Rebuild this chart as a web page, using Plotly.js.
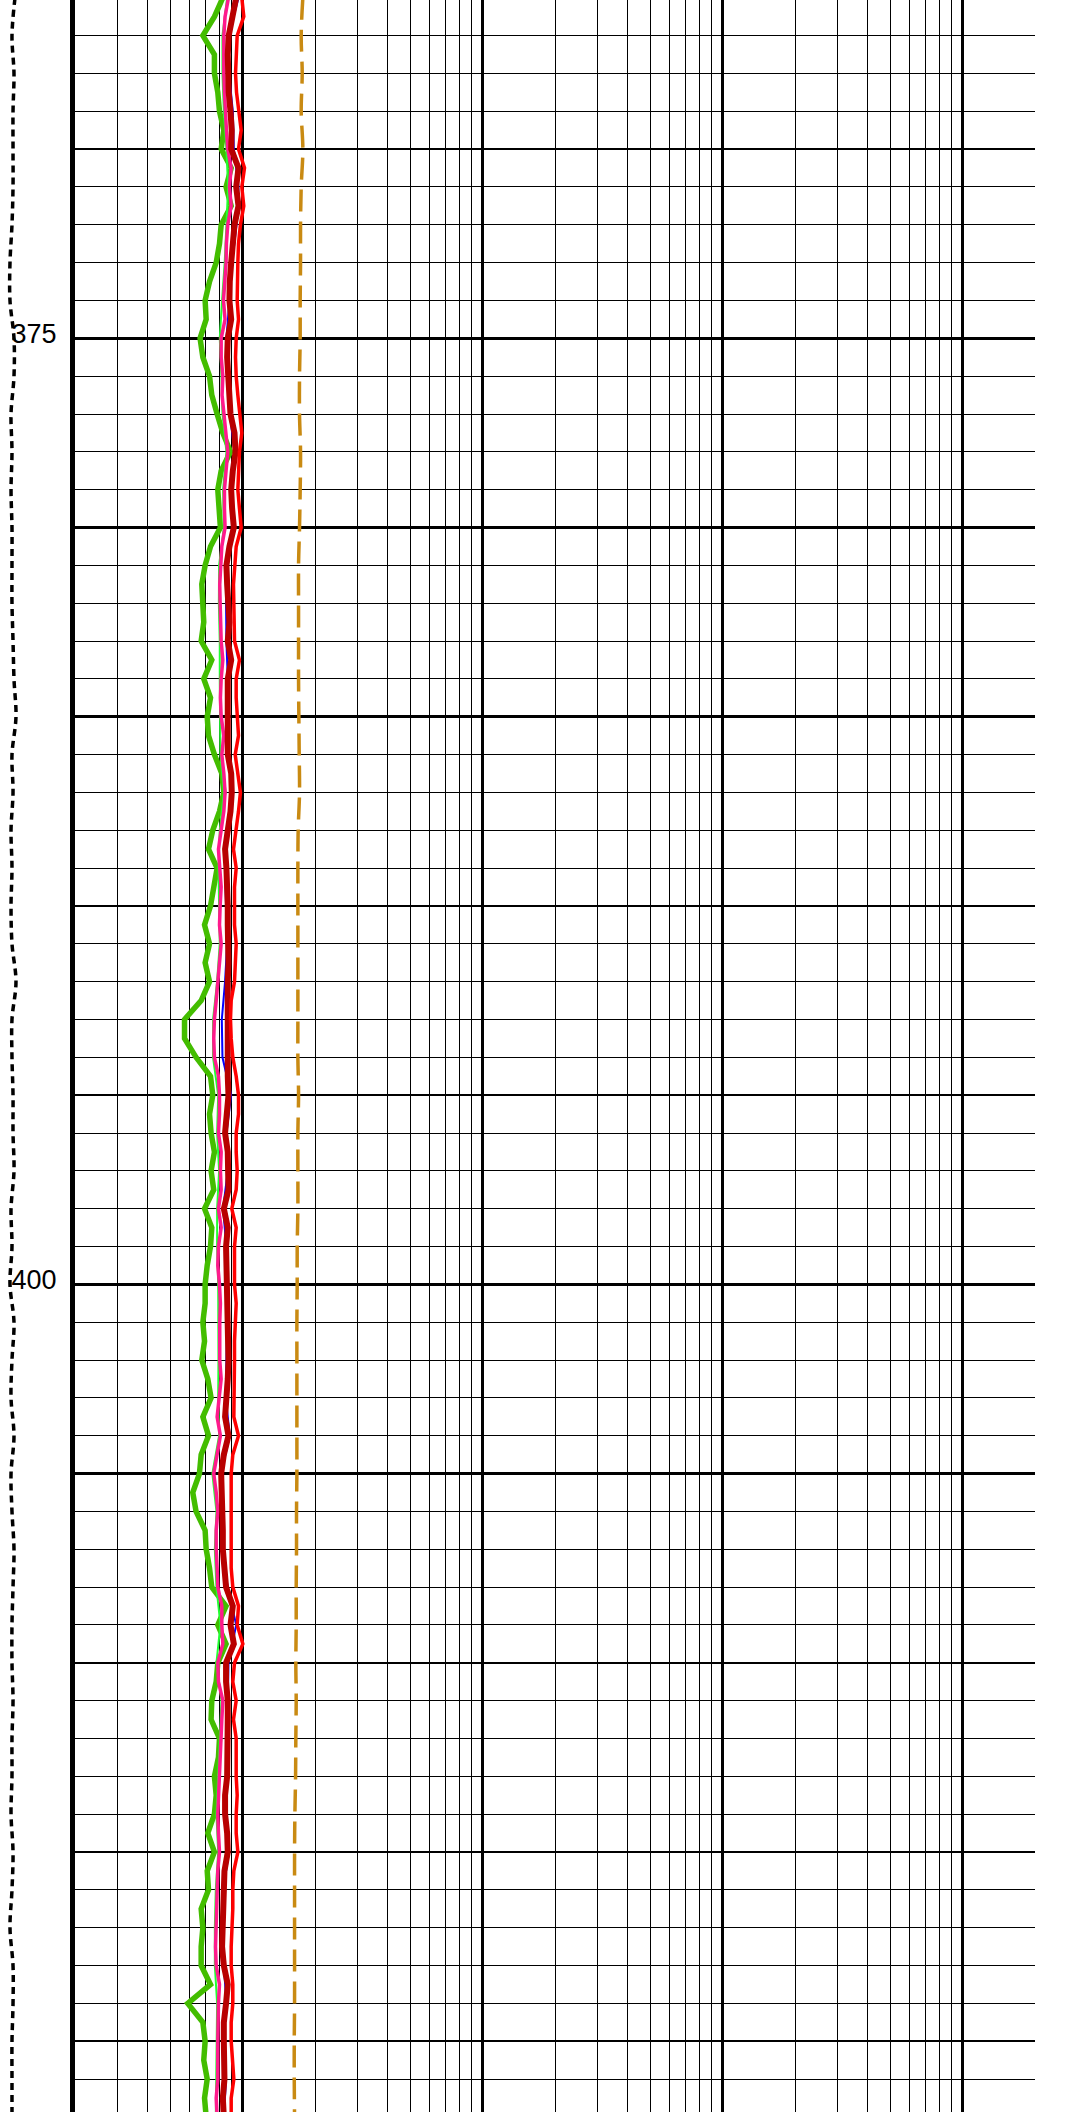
<!DOCTYPE html>
<html>
<head>
<meta charset="utf-8">
<script src="https://cdn.plot.ly/plotly-3.0.1.min.js"></script>
<style>
html,body{margin:0;padding:0;background:#fff;}
#chart{width:1082px;height:2112px;}
</style>
</head>
<body>
<div id="chart"></div>
<script>
// Depth samples (0.5 step) for the resistivity curves
const depth = [366,366.5,367,367.5,368,368.5,369,369.5,370,370.5,371,371.5,372,372.5,373,373.5,374,374.5,375,375.5,376,376.5,377,
377.5,378,378.5,379,379.5,380,380.5,381,381.5,382,382.5,383,383.5,384,384.5,385,385.5,386,386.5,387,387.5,388,388.5,
389,389.5,390,390.5,391,391.5,392,392.5,393,393.5,394,394.5,395,395.5,396,396.5,397,397.5,398,398.5,399,399.5,
400,400.5,401,401.5,402,402.5,403,403.5,404,404.5,405,405.5,406,406.5,407,407.5,408,408.5,409,409.5,410,410.5,
411,411.5,412,412.5,413,413.5,414,414.5,415,415.5,416,416.5,417,417.5,418,418.5,419,419.5,420,420.5,421,421.5,422];

// Depth samples (1.0 step)
const depth1 = [366,367,368,369,370,371,372,373,374,375,376,377,378,379,380,381,382,383,384,385,386,387,388,389,390,391,392,393,394,
395,396,397,398,399,400,401,402,403,404,405,406,407,408,409,410,411,412,413,414,415,416,417,418,419,420,421,422];

const greenVals = [0.826,0.762,0.682,0.762,0.762,0.787,0.800,0.834,0.813,0.895,0.852,0.895,0.813,0.800,0.775,0.727,0.697,0.704,0.664,0.682,0.727,0.743,0.782,
0.826,0.889,0.813,0.787,0.800,0.807,0.734,0.697,0.675,0.682,0.688,0.671,0.743,0.688,0.734,0.711,0.720,0.762,0.818,0.834,0.800,0.750,0.720,
0.782,0.762,0.734,0.693,0.727,0.697,0.727,0.671,0.572,0.572,0.639,0.734,0.750,0.727,0.738,0.762,0.738,0.757,0.693,0.743,0.734,0.711,
0.697,0.697,0.682,0.693,0.675,0.715,0.738,0.682,0.720,0.671,0.660,0.619,0.639,0.697,0.704,0.727,0.743,0.852,0.787,0.852,0.787,0.775,
0.743,0.738,0.800,0.792,0.762,0.775,0.762,0.715,0.762,0.711,0.720,0.671,0.682,0.671,0.671,0.734,0.590,0.682,0.697,0.688,0.711,0.693,0.704];

const pinkVals = [0.872,0.844,0.834,0.831,0.834,0.839,0.844,0.855,0.866,0.895,0.880,0.895,0.866,0.855,0.852,0.839,0.831,0.844,0.813,0.813,0.826,0.820,0.834,
0.855,0.866,0.852,0.839,0.839,0.844,0.818,0.807,0.802,0.805,0.807,0.813,0.826,0.813,0.807,0.813,0.834,0.818,0.834,0.844,0.834,0.813,0.792,
0.802,0.813,0.805,0.800,0.813,0.802,0.792,0.775,0.762,0.757,0.762,0.792,0.800,0.800,0.792,0.813,0.807,0.813,0.792,0.813,0.792,0.787,
0.800,0.807,0.802,0.800,0.802,0.813,0.800,0.782,0.807,0.782,0.757,0.775,0.787,0.775,0.775,0.782,0.787,0.818,0.818,0.826,0.787,0.792,
0.826,0.818,0.813,0.805,0.800,0.792,0.787,0.792,0.800,0.787,0.782,0.775,0.775,0.770,0.775,0.800,0.792,0.787,0.787,0.787,0.787,0.775,0.782];

const darkRedVals = [0.939,0.909,0.874,0.866,0.866,0.874,0.889,0.900,0.895,0.960,0.939,0.960,0.924,0.903,0.895,0.883,0.880,0.895,0.866,0.861,0.874,0.880,0.889,
0.924,0.933,0.909,0.895,0.903,0.918,0.880,0.855,0.861,0.866,0.880,0.866,0.895,0.866,0.866,0.872,0.874,0.866,0.895,0.900,0.889,0.866,0.844,
0.855,0.866,0.866,0.866,0.872,0.872,0.866,0.866,0.861,0.855,0.861,0.866,0.872,0.861,0.844,0.866,0.872,0.872,0.834,0.866,0.852,0.855,
0.866,0.861,0.866,0.866,0.872,0.866,0.852,0.844,0.872,0.834,0.813,0.820,0.826,0.826,0.826,0.834,0.852,0.909,0.889,0.918,0.852,0.852,
0.866,0.866,0.866,0.866,0.861,0.844,0.844,0.861,0.866,0.839,0.834,0.826,0.826,0.820,0.834,0.866,0.852,0.834,0.834,0.839,0.839,0.826,0.834];

const redVals = [0.991,1.010,0.948,0.939,0.933,0.942,0.960,0.985,0.960,1.017,0.991,1.010,0.978,0.960,0.954,0.954,0.948,0.960,0.939,0.933,0.939,0.954,0.969,
0.991,0.969,0.960,0.954,0.969,0.985,0.939,0.924,0.915,0.918,0.918,0.924,0.969,0.939,0.939,0.948,0.960,0.930,0.954,0.978,0.960,0.939,0.915,
0.939,0.924,0.924,0.924,0.939,0.930,0.924,0.895,0.889,0.895,0.909,0.939,0.960,0.960,0.939,0.939,0.948,0.939,0.900,0.939,0.924,0.924,
0.924,0.939,0.930,0.924,0.924,0.924,0.924,0.918,0.960,0.909,0.895,0.895,0.889,0.895,0.895,0.895,0.909,0.960,0.948,1.001,0.924,0.909,
0.939,0.915,0.939,0.939,0.939,0.948,0.939,0.939,0.954,0.918,0.909,0.909,0.900,0.895,0.895,0.909,0.909,0.895,0.895,0.903,0.918,0.895,0.895];

const limeVals = [0.861,0.823,0.823,0.834,0.855,0.869,0.855,0.841,0.820,0.802,0.815,0.823,0.855,0.828,0.834,0.797,0.795,0.802,0.802,0.802,
0.807,0.834,0.802,0.792,0.795,0.802,0.782,0.752,0.752,0.790,0.782,0.797,0.782,0.782,0.790,0.792,0.792,0.790,0.797,0.747,
0.777,0.765,0.777,0.807,0.777,0.815,0.802,0.790,0.777,0.790,0.772,0.765,0.765,0.782,0.777,0.777,0.772];

const blueVals = [0.960,0.874,0.877,0.909,0.918,0.960,0.942,0.903,0.880,0.855,0.866,0.883,0.924,0.900,0.924,0.852,0.852,0.855,0.866,0.874,
0.861,0.912,0.855,0.844,0.852,0.861,0.844,0.818,0.823,0.895,0.855,0.866,0.828,0.855,0.855,0.861,0.855,0.849,0.883,0.813,
0.818,0.820,0.866,0.939,0.872,0.866,0.872,0.855,0.852,0.877,0.828,0.823,0.834,0.855,0.834,0.852,0.834];

const orangeVals = [1.780,1.752,1.769,1.752,1.780,1.752,1.741,1.741,1.735,1.735,1.724,1.724,1.741,1.735,1.724,1.708,1.708,1.708,1.708,1.713,
1.719,1.724,1.702,1.697,1.697,1.697,1.697,1.697,1.697,1.708,1.697,1.697,1.697,1.686,1.686,1.681,1.681,1.681,1.681,1.681,
1.675,1.675,1.670,1.670,1.664,1.670,1.664,1.660,1.649,1.644,1.644,1.644,1.644,1.644,1.639,1.639,1.644];

const caliVals = [8.03,7.62,7.89,7.76,7.76,7.76,7.62,7.35,7.35,7.89,7.89,7.49,7.62,7.49,7.62,7.62,7.62,7.76,7.89,8.16,
7.62,7.76,7.49,7.62,7.49,7.62,8.16,7.62,7.62,7.76,7.76,7.89,7.49,7.62,7.35,7.89,7.62,7.49,7.89,7.49,
7.62,7.89,7.76,7.62,7.62,7.76,7.62,7.62,7.49,7.76,7.62,7.35,7.76,7.76,7.62,7.62,7.62];

// Axis tick definitions
const decadeTicks = [1, 10, 100, 1000, 2000];
const minorLogTicks = [0.3,0.4,0.5,0.6,0.7,0.8,0.9, 2,3,4,5,6,7,8,9, 20,30,40,50,60,70,80,90, 200,300,400,500,600,700,800,900];
const depthTicks = [370,375,380,385,390,395,400,405,410,415,420];
const depthLabels = ['', '375', '', '', '', '', '400', '', '', '', ''];

const W = 1082;
function line(x, y, color, width, extra) {
  return {
    type: 'scatter', mode: 'lines', x: x, y: y,
    xaxis: 'x', yaxis: 'y', hoverinfo: 'skip', showlegend: false,
    line: Object.assign({color: color, width: width}, extra || {})
  };
}

const traces = [
  Object.assign(line(caliVals, depth1, 'black', 3.5, {dash: '7px,5px', shape: 'spline'}), {xaxis: 'x2', yaxis: 'y2'}),
  line(orangeVals, depth1, '#c98a12', 3.5, {dash: '22px,10px', shape: 'spline'}),
  line(greenVals, depth, '#43bd00', 5.5),
  line(limeVals, depth1, '#22ff33', 2),
  line(blueVals, depth1, '#0000ff', 2),
  line(pinkVals, depth, '#ff1a8c', 3.5),
  line(darkRedVals, depth, '#b80000', 6),
  line(redVals, depth, '#ff0000', 3.5)
];

const yRange = [421.87, 366.06];

const layout = {
  width: W, height: 2112,
  margin: {l: 0, r: 0, t: 0, b: 0, pad: 0},
  paper_bgcolor: 'white', plot_bgcolor: 'white',
  showlegend: false,
  font: {family: 'Liberation Sans, Arial, sans-serif', color: 'black'},
  xaxis: {
    type: 'log', domain: [75 / W, 1035 / W],
    range: [Math.log10(0.2), Math.log10(2000)],
    tickmode: 'array', tickvals: decadeTicks, showticklabels: false, ticks: '',
    showgrid: true, gridcolor: 'black', gridwidth: 3,
    minor: {tickmode: 'array', tickvals: minorLogTicks, showgrid: true, gridcolor: 'black', gridwidth: 1, ticks: ''},
    zeroline: false, showline: false, fixedrange: true
  },
  yaxis: {
    domain: [0, 1], range: yRange, anchor: 'x',
    tickmode: 'array', tickvals: depthTicks, ticktext: depthLabels,
    ticks: '', ticklabelposition: 'outside', ticklabelstandoff: 8, ticklabelshift: 5,
    tickfont: {size: 27, family: 'Liberation Sans, Arial, sans-serif', color: 'black'},
    showgrid: true, gridcolor: 'black', gridwidth: 2.5,
    minor: {dtick: 1, showgrid: true, gridcolor: 'black', gridwidth: 1, ticks: ''},
    showline: true, linecolor: 'black', linewidth: 5,
    zeroline: false, fixedrange: true
  },
  xaxis2: {
    domain: [0, 74 / W], range: [6, 16], anchor: 'y2',
    showgrid: false, zeroline: false, showticklabels: false, ticks: '', showline: false
  },
  yaxis2: {
    domain: [0, 1], range: yRange, anchor: 'x2',
    showgrid: false, zeroline: false, showticklabels: false, ticks: '', showline: false
  }
};

Plotly.newPlot('chart', traces, layout, {staticPlot: true, displayModeBar: false});
</script>
</body>
</html>
